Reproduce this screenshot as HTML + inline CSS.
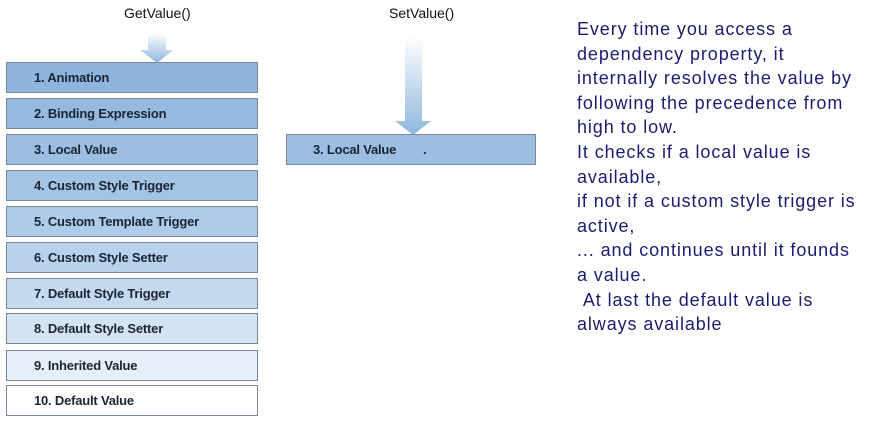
<!DOCTYPE html>
<html><head><style>
body{margin:0;width:879px;height:421px;background:#fff;position:relative;overflow:hidden;font-family:"Liberation Sans",sans-serif}
.b{position:absolute;left:6px;width:250px;height:29px;border:1px solid #7a8797;font:bold 13px "Liberation Sans Narrow","Liberation Sans",sans-serif;color:#1a2535;line-height:29px;text-indent:27px;letter-spacing:-0.2px}
.t{position:absolute;font:14px "Liberation Sans Narrow","Liberation Sans",sans-serif;color:#111}
#txt{position:absolute;left:577px;top:17px;white-space:nowrap;font-size:18px;letter-spacing:0.9px;line-height:24.6px;color:#1c1c70}
</style></head><body>
<div class="t" style="left:124px;top:5px">GetValue()</div>
<div class="t" style="left:389px;top:5px">SetValue()</div>
<svg style="position:absolute;left:0;top:0" width="879" height="421">
<defs>
<linearGradient id="g1" x1="0" y1="0" x2="0" y2="1"><stop offset="0" stop-color="#fff"/><stop offset="1" stop-color="#8fb6de"/></linearGradient>
<linearGradient id="g2" x1="0" y1="0" x2="0" y2="1"><stop offset="0" stop-color="#fff"/><stop offset="1" stop-color="#8fb6de"/></linearGradient>
</defs>
<path d="M148 33 H166 V50 H173 L157 63 L140 50 H148 Z" fill="url(#g1)"/>
<path d="M405 36 H422 V121 H431 L413 135 L395 121 H405 Z" fill="url(#g2)"/>
</svg>
<div class="b" style="top:62px;background:#8fb5de">1. Animation</div>
<div class="b" style="top:98px;background:#95b9df">2. Binding Expression</div>
<div class="b" style="top:134px;background:#9cbee2">3. Local Value</div>
<div class="b" style="top:170px;background:#a4c4e4">4. Custom Style Trigger</div>
<div class="b" style="top:206px;background:#aecbe8">5. Custom Template Trigger</div>
<div class="b" style="top:242px;background:#b8d2eb">6. Custom Style Setter</div>
<div class="b" style="top:278px;background:#c6daef">7. Default Style Trigger</div>
<div class="b" style="top:313px;background:#d5e4f3">8. Default Style Setter</div>
<div class="b" style="top:350px;background:#e6eff8">9. Inherited Value</div>
<div class="b" style="top:385px;background:#fff">10. Default Value</div>
<div class="b" style="left:286px;width:248px;top:134px;background:#9cbee2;text-indent:26px">3. Local Value<span style="position:absolute;left:136px;text-indent:0">.</span></div>
<div id="txt">Every time you access a<br>dependency property, it<br>internally resolves the value by<br>following the precedence from<br>high to low.<br>It checks if a local value is<br>available,<br>if not if a custom style trigger is<br>active,<br>... and continues until it founds<br>a value.<br>&nbsp;At last the default value is<br>always available</div>
</body></html>
